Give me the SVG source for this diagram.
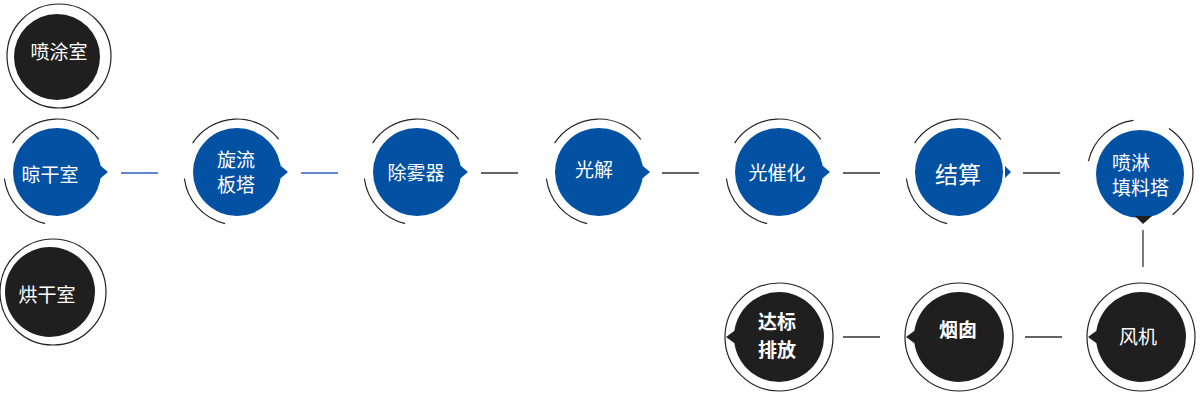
<svg xmlns="http://www.w3.org/2000/svg" width="1200" height="409" viewBox="0 0 1200 409">
<style>
.blue{fill:#0251a3}
.dark{fill:#1f1f1f}
.arc{fill:none;stroke:#222;stroke-width:1.2}
.ring{fill:none;stroke:#222;stroke-width:1.2}
.t{fill:#fff;font-family:"Noto Sans CJK SC","Noto Sans",sans-serif;font-size:19px;text-anchor:middle}
.b{font-weight:bold}
.lnb{stroke:#2a5fbf;stroke-width:1.3}
.lnk{stroke:#333;stroke-width:1.3}
</style>
<defs>
<g id="arcs">
<path class="arc" d="M-44.4,-28.9 A53,53 0 0 1 41.8,-32.6"/>
<path class="arc" d="M-11.9,51.6 A53,53 0 0 1 -52.6,6.5"/>
</g>
<g id="bdisc">
<circle class="blue" r="44"/>
<polygon class="blue" points="38,-11 51,0 38,11"/>
</g>
<g id="kdisc">
<circle class="dark" r="45"/>
<polygon class="dark" points="-38,-11 -53,0 -38,11"/>
<circle class="ring" r="54"/>
</g>
</defs>
<g id="connectors">
<line class="lnb" x1="121" y1="173" x2="158" y2="173"/>
<line class="lnb" x1="301" y1="173" x2="338" y2="173"/>
<line class="lnk" x1="481" y1="173" x2="518" y2="173"/>
<line class="lnk" x1="662" y1="173" x2="699" y2="173"/>
<line class="lnk" x1="843" y1="173" x2="880" y2="173"/>
<line class="lnk" x1="1023" y1="173" x2="1060" y2="173"/>
<line class="lnk" x1="1143" y1="230" x2="1143" y2="267"/>
<line class="lnk" x1="843" y1="337" x2="880" y2="337"/>
<line class="lnk" x1="1025" y1="337" x2="1062" y2="337"/>
</g>
<g id="n-pentushi">
<circle class="ring" cx="59" cy="56" r="52"/>
<circle class="dark" cx="57" cy="57" r="43"/>
<text class="t" x="59" y="59">喷涂室</text>
</g>
<g id="n-honggan">
<circle class="ring" cx="53" cy="292" r="53"/>
<circle class="dark" cx="50" cy="292" r="45"/>
<text class="t" x="47" y="302">烘干室</text>
</g>
<g id="n-lianggan">
<use href="#bdisc" x="57" y="172"/>
<use href="#arcs" x="57" y="172"/>
<text class="t" x="50" y="182">晾干室</text>
</g>
<g id="n-xuanliu">
<use href="#bdisc" x="237" y="172"/>
<use href="#arcs" x="237" y="172"/>
<text class="t" x="236" y="167">旋流</text>
<text class="t" x="236" y="192">板塔</text>
</g>
<g id="n-chuwu">
<use href="#bdisc" x="417" y="172"/>
<use href="#arcs" x="417" y="172"/>
<text class="t" x="416" y="180">除雾器</text>
</g>
<g id="n-guangjie">
<use href="#bdisc" x="599" y="172"/>
<use href="#arcs" x="599" y="172"/>
<text class="t" x="594" y="177">光解</text>
</g>
<g id="n-guangcuihua">
<use href="#bdisc" x="779" y="172"/>
<use href="#arcs" x="779" y="172"/>
<text class="t" x="777" y="180">光催化</text>
</g>
<g id="n-jiesuan">
<circle class="blue" cx="959" cy="172" r="44"/>
<polygon class="blue" points="1005,166 1011,172 1005,178"/>
<use href="#arcs" x="959" y="172"/>
<text class="t" x="958" y="183" style="font-size:23px">结算</text>
</g>
<g id="n-penlin">
<circle class="blue" cx="1140" cy="174" r="44"/>
<polygon class="dark" points="1135,216 1152,216 1143,224"/>
<use href="#arcs" transform="translate(1140,173) rotate(90)"/>
<text class="t" x="1112" y="170" style="text-anchor:start">喷淋</text>
<text class="t" x="1112" y="195" style="text-anchor:start">填料塔</text>
</g>
<g id="n-fengji">
<use href="#kdisc" x="1141" y="337"/>
<text class="t" x="1138" y="344">风机</text>
</g>
<g id="n-yancong">
<use href="#kdisc" x="959" y="337"/>
<text class="t b" x="958" y="337">烟囱</text>
</g>
<g id="n-dabiao">
<use href="#kdisc" x="779" y="337"/>
<text class="t b" x="777" y="329">达标</text>
<text class="t b" x="777" y="357">排放</text>
</g>
</svg>
